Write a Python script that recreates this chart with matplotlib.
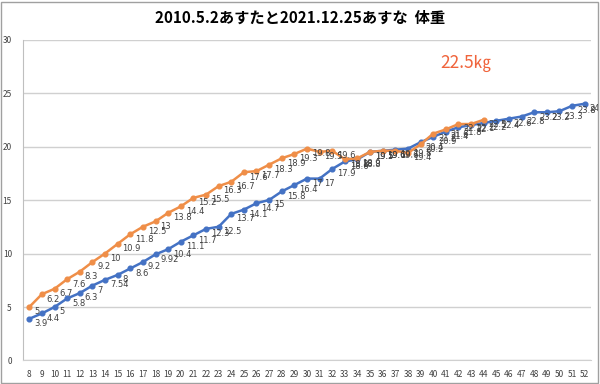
import matplotlib
matplotlib.use("Agg")
import matplotlib.pyplot as plt
from matplotlib.patches import Rectangle

plt.rcParams['font.family'] = ['Noto Sans CJK JP', 'DejaVu Sans']

# Données : semaines et poids (kg)
weeks = list(range(8, 53))
week_labels = [str(w) for w in weeks]

# 2010.5.2 あすた (orange)
asuta_weeks = list(range(8, 45))
asuta = [5, 6.2, 6.7, 7.6, 8.3, 9.2, 10, 10.9, 11.8, 12.5, 13, 13.8, 14.4, 15.2,
         15.5, 16.3, 16.7, 17.6, 17.7, 18.3, 18.9, 19.3, 19.8, 19.5, 19.6, 18.8,
         18.9, 19.5, 19.6, 19.6, 19.4, 20.2, 21.2, 21.6, 22.1, 22.1, 22.5]

# 2021.12.25 あすな (bleu)
asuna_weeks = list(range(8, 53))
asuna = [3.9, 4.4, 5, 5.8, 6.3, 7, 7.54, 8, 8.6, 9.2, 9.92, 10.4, 11.1, 11.7,
         12.3, 12.5, 13.7, 14.1, 14.7, 15, 15.8, 16.4, 17, 17, 17.9, 18.6, 18.8,
         19.5, 19.6, 19.7, 19.8, 20.4, 20.9, 21.4, 21.8, 22, 22.2, 22.4, 22.6,
         22.8, 23.2, 23.2, 23.3, 23.8, 24]

title = "2010.5.2あすたと2021.12.25あすな  体重"
latest = "22.5㎏"

blue = '#4472C4'
orange = '#EF8E48'

fig = plt.figure(figsize=(6, 3.84), dpi=100)
ax = fig.add_axes([0.0383, 0.0612, 0.9467, 0.8359])

ax.plot(asuna_weeks, asuna, color=blue, lw=1.8, marker='o', ms=3.4, zorder=3)
ax.plot(asuta_weeks, asuta, color=orange, lw=1.8, marker='o', ms=3.4, zorder=4)

# Étiquettes de données
for xs, ys in [(asuta_weeks, asuta), (asuna_weeks, asuna)]:
    for x, y in zip(xs, ys):
        ax.annotate(f"{y:g}", (x, y), xytext=(3.5, -3.5), textcoords='offset points',
                    ha='left', va='center', fontsize=6, color='#404040',
                    family='DejaVu Sans', zorder=5)

ax.set_xlim(7.5, 52.5)
ax.set_ylim(0, 30)
ax.set_xticks(weeks)
ax.set_xticklabels(week_labels)
ax.set_yticks(range(0, 31, 5))
ax.tick_params(length=0, labelsize=6, colors='#404040')
ax.tick_params(axis='x', pad=7)
ax.tick_params(axis='y', pad=8)
ax.grid(axis='y', color='#D0D0D0', lw=1)
ax.set_axisbelow(True)
for s in ['top', 'right']:
    ax.spines[s].set_visible(False)
ax.spines['left'].set_color('#BFBFBF')
ax.spines['bottom'].set_color('#D0D0D0')

fig.text(0.5, 0.955, title, ha='center', va='center', fontsize=11,
         fontweight='bold', color='#000000')
ax.text(42.6, 27.8, latest, ha='center', va='center', fontsize=12.5,
        color='#F0643C')

# Bordure du graphique
fig.patches.append(Rectangle((0.002, 0.003), 0.995, 0.993, transform=fig.transFigure,
                             fill=False, edgecolor='#A0A0A0', lw=1))

fig.savefig('out.png', dpi=100)
